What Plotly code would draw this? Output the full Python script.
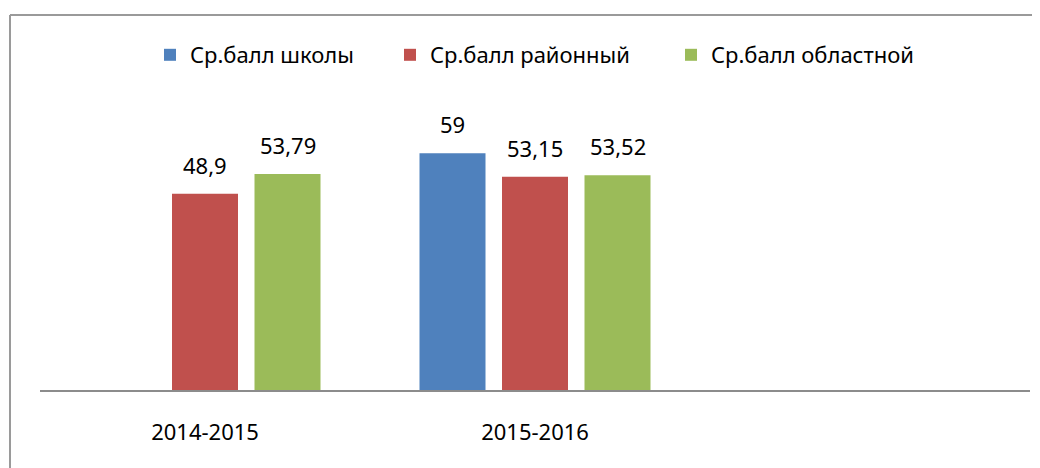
import plotly.graph_objects as go

categories = ["2014-2015", "2015-2016"]
series_names = ["Ср.балл школы", "Ср.балл районный", "Ср.балл областной"]
school = [None, 59]
district = [48.9, 53.15]
region = [53.79, 53.52]
colors = ["#4F81BD", "#C0504D", "#9BBB59"]

series_values = [school, district, region]
n_slots = 3  # third category slot is empty
bargap = 0.25
bargroupgap = 0.2

# page body has an 8px margin, so figure coords = screen coords - 8
OFF = 8
W, H = 1040, 468
ml = 40 - OFF
mt = 109 - OFF
mb = H - (390 - OFF)
mr = W - (1030 - OFF)
ph = H - mt - mb
pw = W - ml - mr

def px_x(p):
    return (p - OFF - ml) / pw

def px_y(p):
    return (H - mb - (p - OFF)) / ph

legend_names = ["legend", "legend2", "legend3"]
legend_left = [150, 390, 671]

fig = go.Figure()
xpos = list(range(len(categories)))
for name, vals, col, lg in zip(series_names, series_values, colors, legend_names):
    fig.add_trace(go.Bar(x=xpos, y=vals, name=name, marker_color=col,
                         marker_line_width=0, legend=lg))

annotations = []
slot = (1 - bargap) / len(series_values)
for i, vals in enumerate(series_values):
    for j, v in enumerate(vals):
        if v is None:
            continue
        annotations.append(dict(
            x=j + (i - 1) * slot, y=v, xref="x", yref="y",
            text=f"{v:g}".replace(".", ","), showarrow=False,
            yanchor="bottom", yshift=12,
            font=dict(size=22, color="#000000", family="Noto Sans")))

shapes = [
    dict(type="line", xref="paper", yref="paper", x0=px_x(10), x1=px_x(1080),
         y0=px_y(15), y1=px_y(15), line=dict(color="#9a9a9a", width=2)),
    dict(type="line", xref="paper", yref="paper", x0=px_x(10), x1=px_x(10),
         y0=px_y(15), y1=px_y(500), line=dict(color="#9a9a9a", width=2)),
]

legend_layout = {}
for lg, lx in zip(legend_names, legend_left):
    legend_layout[lg] = dict(orientation="h", x=px_x(lx), xanchor="left",
                             y=px_y(55), yanchor="middle",
                             font=dict(size=22), itemclick=False,
                             bgcolor="rgba(0,0,0,0)")

fig.update_layout(
    width=W, height=H,
    margin=dict(l=ml, r=mr, t=mt, b=mb),
    paper_bgcolor="white", plot_bgcolor="white",
    barmode="group", bargap=bargap, bargroupgap=bargroupgap,
    font=dict(family="Noto Sans", size=22, color="#000000"),
    annotations=annotations,
    shapes=shapes,
    xaxis=dict(range=[-0.5, n_slots - 0.5], tickvals=xpos, ticktext=categories,
               showline=True, linecolor="#8c8c8c", linewidth=2,
               showgrid=False, zeroline=False, ticks="",
               ticklabelstandoff=22, tickfont=dict(size=22)),
    yaxis=dict(range=[0, 70], visible=False, showgrid=False, zeroline=False),
    showlegend=True,
    **legend_layout,
)

fig.write_html("out.html")
